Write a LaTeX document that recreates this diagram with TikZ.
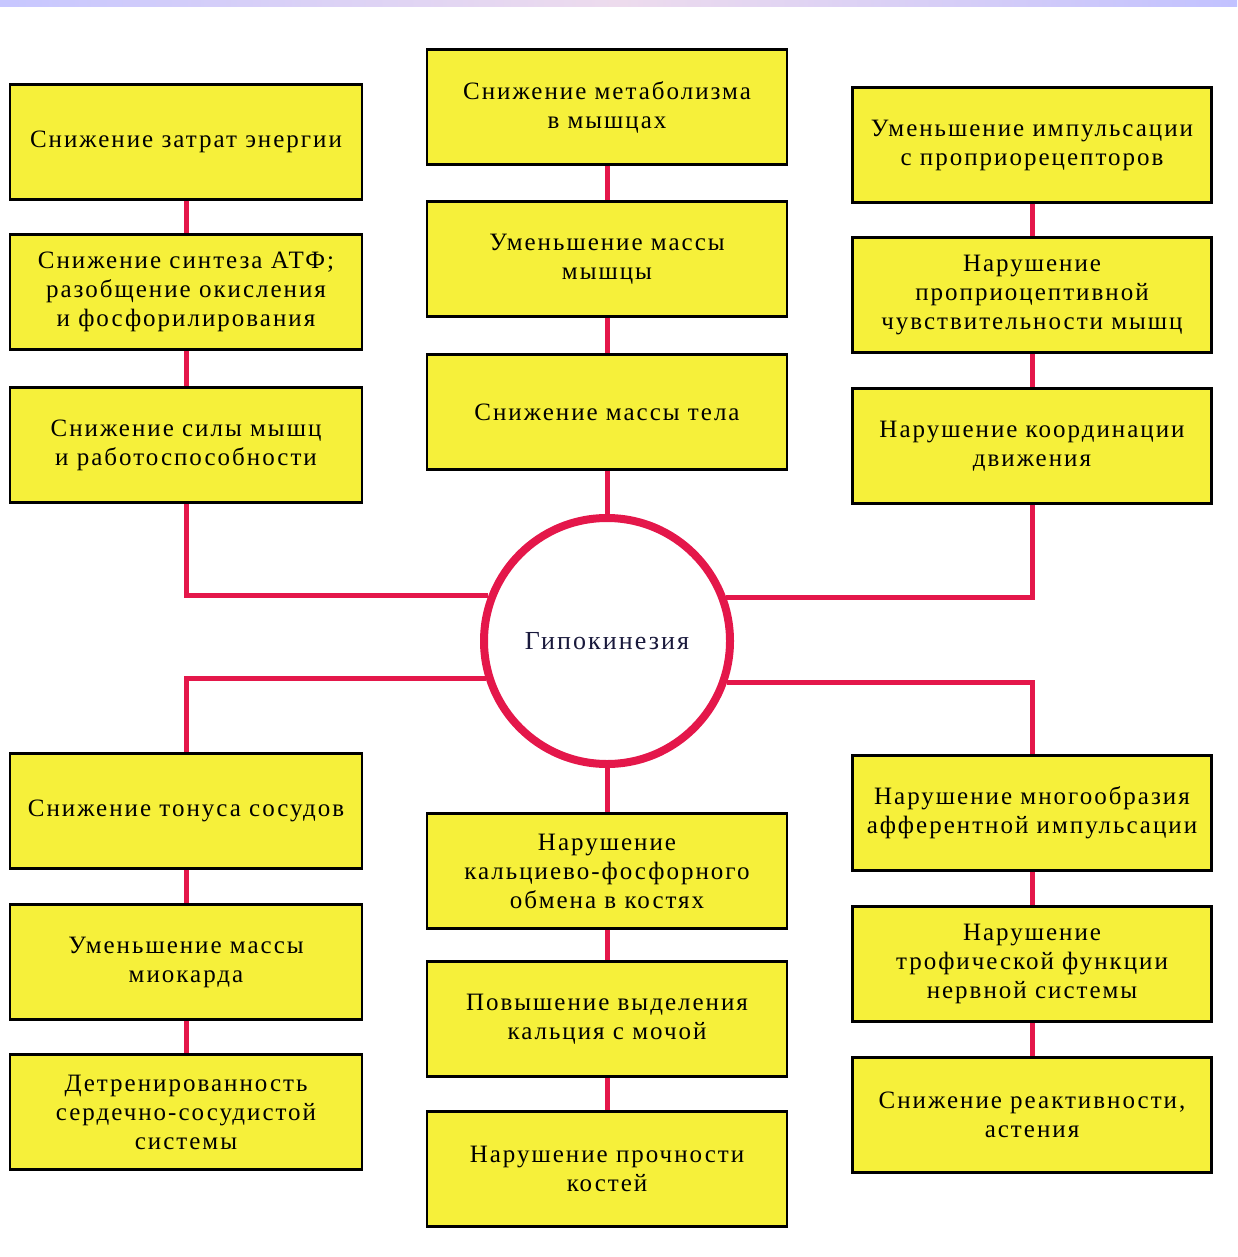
\documentclass[tikz,border=0pt]{standalone}
\usepackage{fontspec}
\setmainfont{Liberation Serif}[LetterSpace=8]
\usepackage{tikz}
\usetikzlibrary{positioning}
\definecolor{boxyellow}{RGB}{246,240,58}
\definecolor{linkred}{RGB}{228,23,74}
\definecolor{hubtext}{RGB}{25,25,60}

\begin{document}
\begin{tikzpicture}[x=1pt,y=-1pt,
    box/.style={draw=black,line width=2.5pt,fill=boxyellow,minimum height=115pt,
      align=center,inner sep=4pt,font=\fontsize{25}{29}\selectfont},
    leftbox/.style={box,minimum width=352pt},
    midbox/.style={box,minimum width=360pt},
    rightbox/.style={box,minimum width=359pt},
    hub/.style={circle,draw=linkred,line width=8pt,fill=white,minimum size=246pt,
      text=hubtext,font=\fontsize{26}{30}\selectfont},
    link/.style={draw=linkred,line width=5pt}]
    \useasboundingbox (0,0) rectangle (1237,1257);
    \shade[left color=blue!22,right color=blue!24,middle color=violet!14] (0,0) rectangle (1237,7);

    \node[hub] (g) at (607,641) {Гипокинезия};

    \node[leftbox] (l1) at (186,142) {Снижение затрат энергии};
    \node[leftbox] (l2) at (186,292) {Снижение синтеза АТФ;\\разобщение окисления\\и фосфорилирования};
    \node[leftbox] (l3) at (186,445) {Снижение силы мышц\\и работоспособности};

    \node[midbox] (m1) at (607,107) {Снижение метаболизма\\в мышцах};
    \node[midbox] (m2) at (607,259) {Уменьшение массы\\мышцы};
    \node[midbox] (m3) at (607,412) {Снижение массы тела};

    \node[rightbox] (r1) at (1032,145) {Уменьшение импульсации\\с проприорецепторов};
    \node[rightbox] (r2) at (1032,295) {Нарушение\\проприоцептивной\\чувствительности мышц};
    \node[rightbox] (r3) at (1032,446) {Нарушение координации\\движения};

    \node[leftbox] (bl1) at (186,811) {Снижение тонуса сосудов};
    \node[leftbox] (bl2) at (186,962) {Уменьшение массы\\миокарда};
    \node[leftbox] (bl3) at (186,1112) {Детренированность\\сердечно-сосудистой\\системы};

    \node[midbox] (bm1) at (607,871) {Нарушение\\кальциево-фосфорного\\обмена в костях};
    \node[midbox] (bm2) at (607,1019) {Повышение выделения\\кальция с мочой};
    \node[midbox] (bm3) at (607,1169) {Нарушение прочности\\костей};

    \node[rightbox] (br1) at (1032,813) {Нарушение многообразия\\афферентной импульсации};
    \node[rightbox] (br2) at (1032,964) {Нарушение\\трофической функции\\нервной системы};
    \node[rightbox] (br3) at (1032,1115) {Снижение реактивности,\\астения};

    \path[link]
    (l1) edge (l2)
    (l2) edge (l3)
    (m1) edge (m2)
    (m2) edge (m3)
    (m3) edge (g)
    (r1) edge (r2)
    (r2) edge (r3)
    (bl1) edge (bl2)
    (bl2) edge (bl3)
    (g) edge (bm1)
    (bm1) edge (bm2)
    (bm2) edge (bm3)
    (br1) edge (br2)
    (br2) edge (br3);
    \draw[link] (l3.south) |- (g.159);
    \draw[link] (r3.south) |- (g.20);
    \draw[link] (g.197) -| (bl1.north);
    \draw[link] (g.341) -| (br1.north);
\end{tikzpicture}
\end{document}
